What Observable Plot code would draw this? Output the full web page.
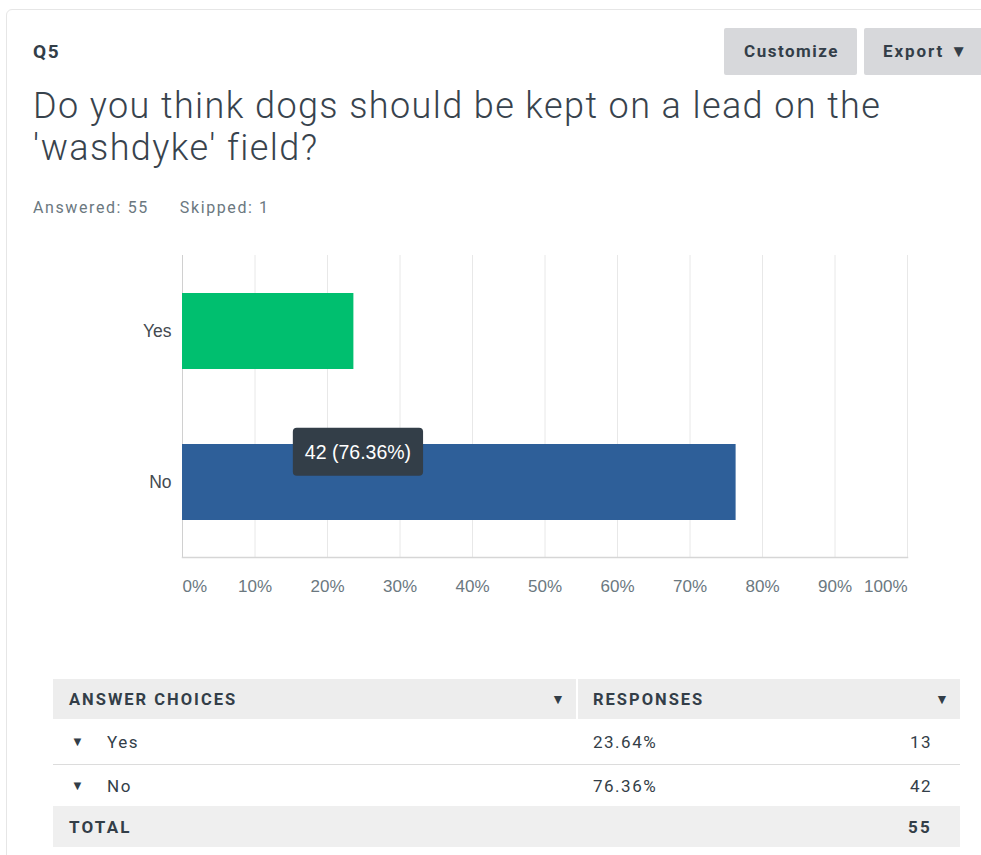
<!DOCTYPE html>
<html>
<head>
<meta charset="utf-8">
<script src="https://cdn.jsdelivr.net/npm/d3@7"></script>
<script src="https://cdn.jsdelivr.net/npm/@observablehq/plot@0.6"></script>
<style>
  html, body { margin: 0; padding: 0; background: #ffffff; width: 981px; height: 855px; overflow: hidden; }
  body { position: relative; font-family: Roboto, "Liberation Sans", sans-serif; color: #333e48; }
  .abs { position: absolute; white-space: nowrap; }
  #card { left: 6px; top: 9px; width: 1000px; height: 900px; border: 1px solid #e6e6e6; border-radius: 6px; box-sizing: border-box; }
  #qnum { left: 33px; top: 40px; font-size: 19px; font-weight: 700; letter-spacing: 1.6px; }
  .btn { top: 28px; height: 47px; background: #d7d8db; border-radius: 2px; font-size: 17px; font-weight: 700; line-height: 47px; color: #333e48; letter-spacing: 1.5px; }
  #btn1 { left: 724px; width: 133px; text-align: center; padding-left: 2px; box-sizing: border-box; }
  #btn2 { left: 864px; width: 140px; padding-left: 19px; box-sizing: border-box; letter-spacing: 1.9px; }
  #title { left: 33px; top: 85px; font-size: 36px; font-weight: 300; line-height: 42px; color: #38434d; letter-spacing: 1.4px; }
  #meta { left: 33px; top: 198px; font-size: 16px; color: #6b787f; letter-spacing: 1.6px; }
  #chart { left: 0px; top: 230px; }
  .row { position: absolute; left: 53px; width: 907px; box-sizing: border-box; }
  .cell { position: absolute; top: 0; bottom: 0; display: flex; align-items: center; white-space: nowrap; box-sizing: border-box; }
  .hd { font-size: 16.5px; font-weight: 700; letter-spacing: 2px; }
  .tx { font-size: 17px; letter-spacing: 1.5px; }
  .bd { font-size: 17px; font-weight: 700; letter-spacing: 2.2px; }
  .tri { font-size: 13px; }
</style>
</head>
<body>
<div id="card" class="abs"></div>
<div id="qnum" class="abs"></div>
<div id="btn1" class="abs btn">Customize</div>
<div id="btn2" class="abs btn">Export <span style="font-size:17px;letter-spacing:0">&#9660;</span></div>
<div id="title" class="abs"></div>
<div id="meta" class="abs"></div>
<div id="chart" class="abs"></div>
<div id="table"></div>
<script>
// ---- data ----
const questionNumber = "Q5";
const questionLines = ["Do you think dogs should be kept on a lead on the", "'washdyke' field?"];
const answered = 55;
const skipped = 1;
const choices = ["Yes", "No"];
const percents = [23.64, 76.36];
const counts = [13, 42];
const total = 55;
const barColors = ["#00bf6f", "#2e5f99"];
const tickValues = [0, 10, 20, 30, 40, 50, 60, 70, 80, 90, 100];
const tickLabels = ["0%", "10%", "20%", "30%", "40%", "50%", "60%", "70%", "80%", "90%", "100%"];
const tooltipChoice = "No";
const tooltipHoverAt = 24.2; // hover position (percent) where the tooltip sits
const tableHeaders = ["ANSWER CHOICES", "RESPONSES"];

// ---- header text ----
const esc = s => s.replace(/&/g, "&amp;").replace(/</g, "&lt;");
document.getElementById("qnum").textContent = questionNumber;
document.getElementById("title").innerHTML = questionLines.map(esc).join("<br>");
document.getElementById("meta").innerHTML = `Answered: ${answered}<span style="display:inline-block;width:31px"></span>Skipped: ${skipped}`;

// ---- chart ----
const rows = choices.map((c, i) => ({choice: c, pct: percents[i], count: counts[i]}));
const ticks = tickValues.map((v, i) => ({v, label: tickLabels[i]}));
const tipRow = rows.find(r => r.choice === tooltipChoice);
const tip = [{x: tooltipHoverAt, choice: tipRow.choice, label: `${tipRow.count} (${tipRow.pct.toFixed(2)}%)`}];

const labelFont = "'Liberation Sans', Arial, Helvetica, sans-serif";

const chart = Plot.plot({
  width: 981,
  height: 380,
  marginLeft: 182,
  marginRight: 74,
  marginTop: 25,
  marginBottom: 53,
  style: {background: "transparent", fontFamily: labelFont},
  x: {domain: [0, 100], axis: null},
  y: {domain: choices, axis: null, paddingInner: 0.5, paddingOuter: 0.25},
  color: {domain: choices, range: barColors},
  marks: [
    Plot.ruleX(tickValues.slice(1), {stroke: "#e8e8e8", strokeWidth: 1}),
    Plot.ruleX([0], {stroke: "#d0d0d0", strokeWidth: 1}),
    Plot.frame({anchor: "bottom", stroke: "#d6d6d6", strokeWidth: 1.5}),
    Plot.barX(rows, {x: "pct", y: "choice", fill: "choice"}),
    Plot.text(choices, {x: 0, y: d => d, dx: -11, textAnchor: "end", fontSize: 17.5, fill: "#444a50"}),
    Plot.text(ticks.slice(0, 1), {x: "v", text: "label", frameAnchor: "bottom", dy: 34, textAnchor: "start", fontSize: 17, fill: "#6b787f"}),
    Plot.text(ticks.slice(1, -1), {x: "v", text: "label", frameAnchor: "bottom", dy: 34, textAnchor: "middle", fontSize: 17, fill: "#6b787f"}),
    Plot.text(ticks.slice(-1), {x: "v", text: "label", frameAnchor: "bottom", dy: 34, textAnchor: "end", fontSize: 17, fill: "#6b787f"}),
    Plot.text(tip, {x: "x", y: "choice", text: "label", dy: -30, fontSize: 19.5, fill: "#ffffff", ariaDescription: "tooltip"})
  ]
});
document.getElementById("chart").appendChild(chart);

// tooltip box behind the tooltip label (sized from the rendered label)
const tipG = chart.querySelector('g[aria-description="tooltip"]');
if (tipG) {
  tipG.querySelectorAll("text").forEach(t => {
    const b = t.getBBox();
    const padX = 12, padY = 13;
    const r = document.createElementNS("http://www.w3.org/2000/svg", "rect");
    r.setAttribute("x", b.x - padX);
    r.setAttribute("y", b.y - padY);
    r.setAttribute("width", b.width + 2 * padX);
    r.setAttribute("height", b.height + 2 * padY);
    r.setAttribute("rx", 4);
    r.setAttribute("fill", "#333e48");
    const tr = t.getAttribute("transform");
    if (tr) r.setAttribute("transform", tr);
    tipG.insertBefore(r, tipG.firstChild);
  });
}

// ---- table ----
const table = document.getElementById("table");
const layout = [
  {type: "head", top: 679, h: 40},
  {type: "row", top: 719, h: 46, i: 0},
  {type: "row", top: 765, h: 41, i: 1},
  {type: "total", top: 806, h: 41}
];
const tri = '<span class="tri">&#9660;</span>';
layout.forEach(L => {
  const r = document.createElement("div");
  r.className = "row";
  r.style.top = L.top + "px";
  r.style.height = L.h + "px";
  if (L.type === "head") {
    r.innerHTML = `
      <div class="cell hd" style="left:0;width:523px;background:#ededed;padding-left:16px;">${tableHeaders[0]}</div>
      <div class="cell" style="left:498px;font-size:14px">&#9660;</div>
      <div class="cell hd" style="left:525px;width:382px;background:#ededed;padding-left:15px;">${tableHeaders[1]}</div>
      <div class="cell" style="left:882px;font-size:14px">&#9660;</div>`;
  } else if (L.type === "row") {
    const d = rows[L.i];
    r.style.borderBottom = L.i === 0 ? "1.5px solid #dcdcdc" : "none";
    r.innerHTML = `
      <div class="cell" style="left:18px">${tri}</div>
      <div class="cell tx" style="left:54px">${d.choice}</div>
      <div class="cell tx" style="left:540px">${d.pct.toFixed(2)}%</div>
      <div class="cell tx" style="right:28px">${d.count}</div>`;
  } else {
    r.style.background = "#efefef";
    r.innerHTML = `
      <div class="cell bd" style="left:16px">TOTAL</div>
      <div class="cell bd" style="right:28px">${total}</div>`;
  }
  table.appendChild(r);
});
</script>
</body>
</html>
